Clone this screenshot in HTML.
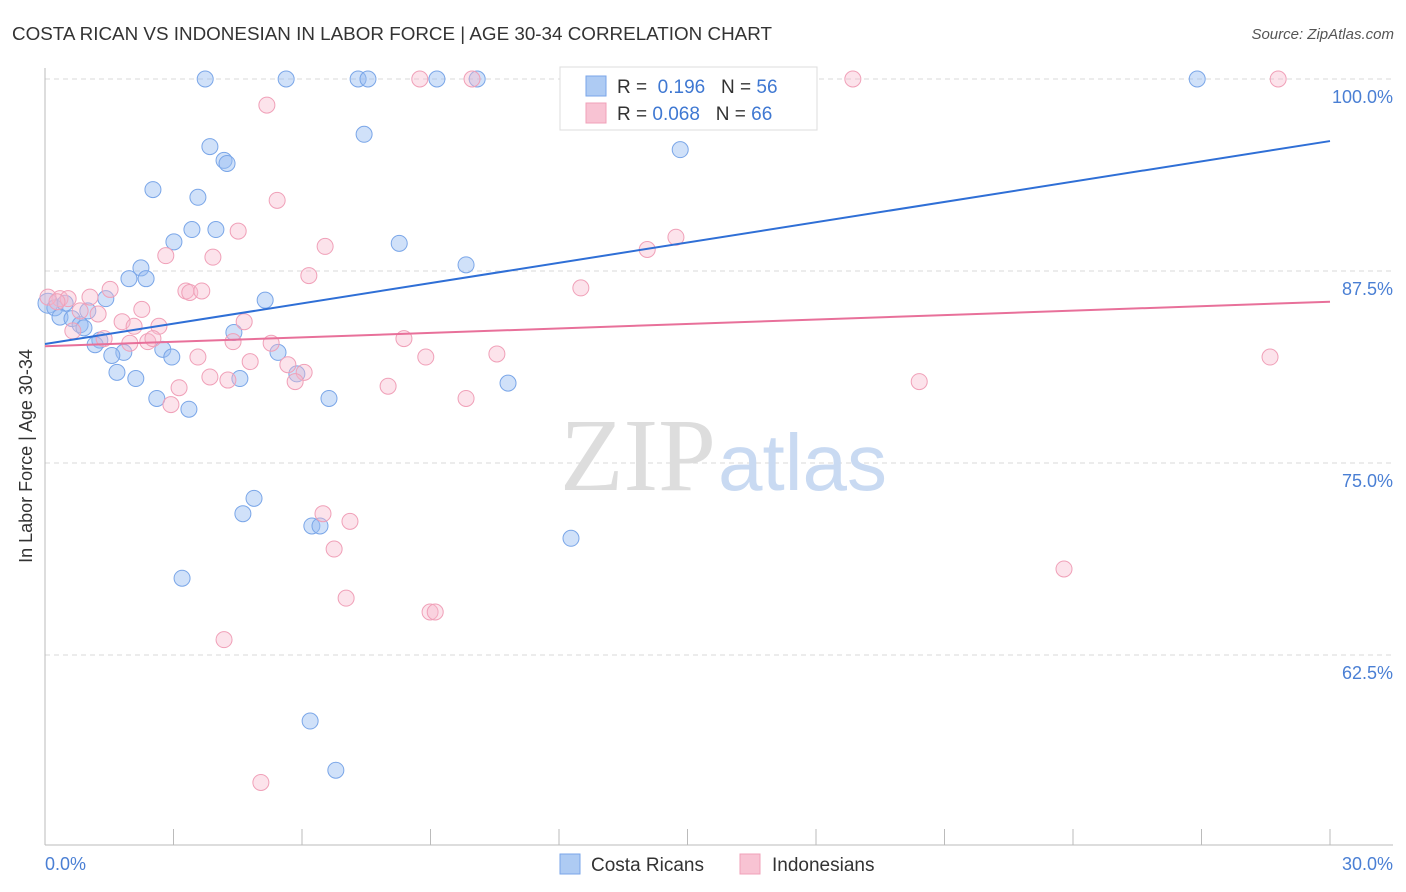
<!DOCTYPE html>
<html><head><meta charset="utf-8"><style>
body{margin:0;background:#fff;font-family:"Liberation Sans",sans-serif;}
svg{display:block}
</style></head><body>
<svg width="1406" height="892" xmlns="http://www.w3.org/2000/svg">
<text x="12" y="40" font-size="18" fill="#333" textLength="760" lengthAdjust="spacingAndGlyphs">COSTA RICAN VS INDONESIAN IN LABOR FORCE | AGE 30-34 CORRELATION CHART</text>
<text x="1394" y="39" font-size="15" fill="#555" text-anchor="end" font-style="italic">Source: ZipAtlas.com</text>
<g id="grid"></g>
<text x="716" y="490" font-size="104" fill="#ddd" text-anchor="end" font-family="Liberation Serif,serif">ZIP</text>
<text x="718" y="490" font-size="80" fill="#c9daf2">atlas</text>
<g id="pts"></g>
<g id="lines"></g>
<text x="32" y="456" font-size="18" fill="#333" text-anchor="middle" transform="rotate(-90 32 456)">In Labor Force | Age 30-34</text>
<text x="45" y="870" font-size="18" fill="#4a7fd4">0.0%</text>
<text x="1393" y="870" font-size="18" fill="#4a7fd4" text-anchor="end">30.0%</text>
<g>
<rect x="560" y="67" width="257" height="63" fill="#fff" stroke="#ddd"/>
<rect x="586" y="76" width="20" height="20" fill="#aecbf3" stroke="#7aa6e8"/>
<text x="617" y="93" font-size="19" fill="#333">R = <tspan fill="#3f78d2">&#160;0.196</tspan>&#160;&#160;&#160;N = <tspan fill="#3f78d2">56</tspan></text>
<rect x="586" y="103" width="20" height="20" fill="#f8c3d3" stroke="#f0a0b8"/>
<text x="617" y="120" font-size="19" fill="#333">R = <tspan fill="#3f78d2">0.068</tspan>&#160;&#160;&#160;N = <tspan fill="#3f78d2">66</tspan></text>
</g>
<g><rect x="560" y="854" width="20" height="20" fill="#aecbf3" stroke="#7aa6e8"/><text x="591" y="871" font-size="19" fill="#333">Costa Ricans</text></g>
<g><rect x="740" y="854" width="20" height="20" fill="#f8c3d3" stroke="#f0a0b8"/><text x="772" y="871" font-size="19" fill="#333">Indonesians</text></g>
</svg>
<script>
const yTicks=[100,87.5,75,62.5];
const yTickLabels=["100.0%","87.5%","75.0%","62.5%"];
const blueX=[3.74,5.63,7.31,7.54,9.15,10.09,26.9,7.45,3.85,4.18,4.25,14.83,2.52,3.57,3.43,3.99,3.01,8.27,9.83,2.24,1.96,2.36,1.42,5.14,0.07,0.23,0.47,0.35,0.63,0.82,0.91,1.0,4.41,1.28,1.17,2.75,1.84,1.56,2.96,5.44,1.68,2.12,4.55,5.88,10.81,2.61,6.63,3.36,4.88,4.62,6.23,6.42,12.28,3.2,6.19,6.79];
const blueY=[100,100,100,100,100,100,100,96.4,95.6,94.7,94.5,95.4,92.8,92.3,90.2,90.2,89.4,89.3,87.9,87.7,87.0,87.0,85.7,85.6,85.4,85.1,85.4,84.5,84.4,84.0,83.8,84.9,83.5,83.0,82.7,82.4,82.2,82.0,81.9,82.2,80.9,80.5,80.5,80.8,80.2,79.2,79.2,78.5,72.7,71.7,70.9,70.9,70.1,67.5,58.2,55.0];
const pinkX=[8.75,9.97,18.86,28.79,5.18,5.42,4.51,6.54,14.73,14.06,2.82,3.92,6.16,12.51,3.29,3.38,3.66,1.52,1.05,0.35,0.54,0.07,0.28,2.26,0.82,1.24,4.65,1.8,2.66,2.08,0.65,1.38,1.98,2.4,2.52,4.39,5.28,8.38,3.57,4.79,8.89,10.55,28.6,5.67,6.05,3.85,4.27,5.84,8.01,3.13,20.41,9.83,2.94,6.49,7.12,6.75,23.79,7.03,8.99,9.11,4.18,5.04];
const pinkY=[100,100,100,100,98.3,92.1,90.1,89.1,89.7,88.9,88.5,88.4,87.2,86.4,86.2,86.1,86.2,86.3,85.8,85.7,85.7,85.8,85.5,85.0,84.9,84.7,84.2,84.2,83.9,83.9,83.6,83.1,82.8,82.9,83.1,82.9,82.8,83.1,81.9,81.6,81.9,82.1,81.9,81.4,80.9,80.6,80.4,80.3,80.0,79.9,80.3,79.2,78.8,71.7,71.2,69.4,68.1,66.2,65.3,65.3,63.5,54.2];
const blueLine=[82.75,95.96];
const pinkLine=[82.6,85.5];
const X0=45,X1=1330,Y100=79,PXV=15.36;
const sx=v=>X0+(v/30)*(X1-X0);
const sy=v=>Y100+(100-v)*PXV;
const NS="http://www.w3.org/2000/svg";
const grid=document.getElementById('grid');
function mk(tag,attrs,parent){const e=document.createElementNS(NS,tag);for(const k in attrs)e.setAttribute(k,attrs[k]);parent.appendChild(e);return e;}
yTicks.forEach((t,i)=>{
 const l=mk('line',{x1:45,x2:1393,y1:sy(t),y2:sy(t),stroke:'#d8d8d8','stroke-dasharray':'5,4'},grid);
 
 
 const tx=mk('text',{x:1393,y:sy(t)+24,'font-size':18,fill:'#4a7fd4','text-anchor':'end'},grid);
 tx.textContent=yTickLabels[i];
 
 
});
let ax=mk('line',{x1:45,x2:1393,y1:845,y2:845,stroke:'#bbb'},grid);


let ay=mk('line',{x1:45,x2:45,y1:68,y2:845,stroke:'#bbb'},grid);


for(let i=0;i<=10;i++){
 const t=mk('line',{x1:sx(i*3),x2:sx(i*3),y1:829,y2:845,stroke:'#bbb'},grid);
 
 
}
const pts=document.getElementById('pts');
blueX.forEach((x,i)=>{
 const c=mk('circle',{cx:sx(x),cy:sy(blueY[i]),r:(i==24?10:8),fill:'rgba(150,188,242,0.45)',stroke:'#7aa6e8','stroke-width':1},pts);
 
 
});
pinkX.forEach((x,i)=>{
 const c=mk('circle',{cx:sx(x),cy:sy(pinkY[i]),r:8,fill:'rgba(248,185,205,0.4)',stroke:'#f0a0b8','stroke-width':1},pts);
 
 
});
const lines=document.getElementById('lines');
const bl=mk('line',{x1:sx(0),y1:sy(blueLine[0]),x2:sx(30),y2:sy(blueLine[1]),stroke:'#2f6fd6','stroke-width':2},lines);


const pl=mk('line',{x1:sx(0),y1:sy(pinkLine[0]),x2:sx(30),y2:sy(pinkLine[1]),stroke:'#e8709a','stroke-width':2},lines);


</script>
</body></html>
